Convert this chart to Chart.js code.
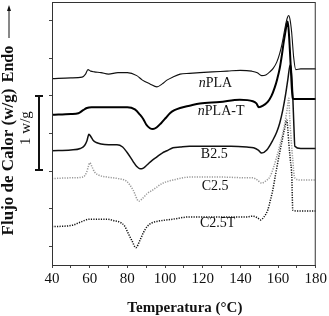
<!DOCTYPE html>
<html>
<head>
<meta charset="utf-8">
<script src="https://cdn.jsdelivr.net/npm/chart.js@4"></script>
<style>
  html, body { margin: 0; padding: 0; background: #fff; }
</style>
</head>
<body>
<canvas id="dsc" width="329" height="316"></canvas>
<script>
// DSC curves, heat flow in W/g (curves shifted vertically as in the figure)
const nplaTemp = [40, 50, 56, 57.8, 59.1, 60.5, 62.5, 66, 70, 75, 80, 85, 88, 92, 95.7, 98.5, 101, 104, 108, 113, 118.5, 125, 133, 140, 146, 149, 151.3, 153.5, 155.6, 157.5, 159.3, 160.8, 162, 163, 163.8, 164.8, 165.6, 166.4, 167.2, 168.3, 169.4, 172, 180];
const nplaFlow = [2.23, 2.24, 2.25, 2.29, 2.35, 2.33, 2.32, 2.31, 2.29, 2.31, 2.31, 2.27, 2.21, 2.16, 2.12, 2.16, 2.21, 2.25, 2.29, 2.30, 2.31, 2.32, 2.33, 2.34, 2.33, 2.31, 2.27, 2.28, 2.32, 2.37, 2.45, 2.56, 2.68, 2.81, 2.92, 3.03, 3.07, 3.01, 2.85, 2.51, 2.35, 2.36, 2.36];

const nplaTTemp = [40, 50, 54, 56.5, 58.5, 61, 70, 80, 84, 86.7, 88.5, 90, 92, 93.6, 95.5, 98, 100.5, 102.6, 105, 108, 113, 118.5, 129, 139.7, 146.6, 148.5, 149.8, 152, 154.5, 156.5, 158.2, 159.6, 160.9, 162, 163, 164, 164.6, 165.1, 165.7, 166.2, 166.8, 167.3, 167.8, 168.5, 172, 180];
const nplaTFlow = [1.75, 1.76, 1.77, 1.81, 1.84, 1.85, 1.85, 1.85, 1.82, 1.75, 1.69, 1.62, 1.57, 1.56, 1.58, 1.64, 1.71, 1.77, 1.81, 1.84, 1.87, 1.90, 1.92, 1.95, 1.93, 1.90, 1.85, 1.87, 1.92, 2.00, 2.11, 2.23, 2.37, 2.54, 2.72, 2.87, 2.96, 2.99, 2.85, 2.64, 2.35, 2.10, 1.97, 1.96, 1.96, 1.96];

const b25Temp = [40, 50, 55, 57.3, 58.5, 59.6, 60.6, 61.8, 63.5, 66, 70, 74.5, 77.5, 79.8, 83, 85, 86.7, 88.5, 90.4, 93, 95.7, 98.5, 101, 104.2, 108, 113, 125, 135, 143.4, 147, 149.5, 151.3, 154, 157.2, 159.3, 160.9, 162.5, 164, 165.2, 166.4, 167, 167.8, 168.4, 168.9, 172, 180];
const b25Flow = [1.27, 1.28, 1.30, 1.34, 1.40, 1.49, 1.46, 1.41, 1.38, 1.36, 1.35, 1.35, 1.32, 1.25, 1.13, 1.06, 1.03, 1.04, 1.08, 1.14, 1.19, 1.24, 1.27, 1.31, 1.32, 1.33, 1.33, 1.33, 1.32, 1.31, 1.28, 1.24, 1.28, 1.41, 1.52, 1.64, 1.81, 2.02, 2.22, 2.41, 2.35, 2.00, 1.60, 1.33, 1.30, 1.30];

const c25Temp = [40, 50, 56.4, 58.3, 59.3, 60.1, 61, 62.5, 64.5, 69.2, 75, 79.8, 83, 86.1, 88.2, 90.5, 93.6, 98.9, 104.2, 113.2, 130, 143.4, 146.6, 149, 151.3, 153.5, 155.6, 157.5, 159.3, 160.8, 162, 163.6, 164.8, 165.7, 166.2, 167, 167.8, 168.8, 172, 180];
const c25Flow = [0.90, 0.91, 0.92, 0.98, 1.06, 1.11, 1.07, 0.99, 0.95, 0.92, 0.90, 0.86, 0.75, 0.60, 0.64, 0.70, 0.75, 0.84, 0.88, 0.92, 0.92, 0.91, 0.91, 0.88, 0.84, 0.87, 0.92, 1.04, 1.19, 1.33, 1.45, 1.64, 1.82, 1.97, 1.70, 1.40, 1.15, 0.91, 0.88, 0.88];

const c25tTemp = [40, 51, 55, 60, 69, 73, 76, 78.5, 80.3, 82.5, 84.5, 86.7, 88.5, 90.4, 93, 95.7, 104.2, 113.2, 130, 143.4, 146.6, 149, 150.8, 152.5, 154.5, 155.8, 157.2, 158.5, 159.8, 161.2, 162.5, 163.6, 164.6, 165.2, 165.7, 166.5, 167.3, 167.8, 170, 180];
const c25tFlow = [0.26, 0.28, 0.32, 0.36, 0.36, 0.34, 0.32, 0.27, 0.18, 0.07, -0.02, 0.08, 0.18, 0.26, 0.31, 0.33, 0.36, 0.39, 0.39, 0.39, 0.40, 0.38, 0.35, 0.39, 0.48, 0.60, 0.75, 0.93, 1.11, 1.29, 1.45, 1.58, 1.68, 1.55, 1.37, 1.15, 0.92, 0.48, 0.47, 0.47];

const yTicks = [0, 0.5, 1, 1.5, 2, 2.5, 3];

// curve labels: [prefix in italics, rest, temperature, heat flow]
const curveLabels = [
  ['n', 'PLA', 117.9, 2.17],
  ['n', 'PLA-T', 117.4, 1.79],
  ['', 'B2.5', 119, 1.22],
  ['', 'C2.5', 119.5, 0.80],
  ['', 'C2.5T', 118.5, 0.30]
];

const pts = (t, q) => t.map((x, i) => ({ x: x, y: q[i] }));
const serif = '"Liberation Serif", "DejaVu Serif", serif';

const annotations = {
  id: 'annotations',
  afterDraw(chart) {
    const ctx = chart.ctx;
    const a = chart.chartArea;
    const xs = chart.scales.x, ys = chart.scales.y;
    ctx.save();

    // frame
    ctx.strokeStyle = '#333';
    ctx.lineWidth = 1;
    ctx.strokeRect(a.left + 0.5, a.top + 0.5, a.right - a.left - 1, a.bottom - a.top);

    // curve labels
    ctx.fillStyle = '#111';
    ctx.textBaseline = 'middle';
    ctx.textAlign = 'left';
    curveLabels.forEach(([it, rest, t, q]) => {
      let px = xs.getPixelForValue(t);
      const py = ys.getPixelForValue(q);
      if (it) {
        ctx.font = 'italic 14px ' + serif;
        ctx.fillText(it, px, py);
        px += ctx.measureText(it).width;
      }
      ctx.font = '14px ' + serif;
      ctx.fillText(rest, px, py);
    });

    // x title
    ctx.textBaseline = 'alphabetic';
    ctx.textAlign = 'center';
    ctx.font = 'bold 15px ' + serif;
    ctx.fillText('Temperatura (\u00B0C)', (a.left + a.right) / 2 + 1, 312);

    // y title and Endo arrow
    ctx.save();
    ctx.translate(12.5, 162);
    ctx.rotate(-Math.PI / 2);
    ctx.font = 'bold 17px ' + serif;
    ctx.fillText('Flujo de Calor (w/g)', 0, 0);
    ctx.restore();

    ctx.save();
    ctx.translate(12.5, 64);
    ctx.rotate(-Math.PI / 2);
    ctx.font = 'bold 16px ' + serif;
    ctx.fillText('Endo', 0, 0);
    ctx.restore();

    ctx.strokeStyle = '#111';
    ctx.lineWidth = 1;
    ctx.beginPath();
    ctx.moveTo(9, 38);
    ctx.lineTo(9, 10);
    ctx.stroke();
    ctx.beginPath();
    ctx.moveTo(9, 5);
    ctx.lineTo(7, 11);
    ctx.lineTo(11, 11);
    ctx.closePath();
    ctx.fill();

    // 1 W/g scale bar
    ctx.lineWidth = 2;
    ctx.beginPath();
    ctx.moveTo(39, 96); ctx.lineTo(39, 170);
    ctx.moveTo(35, 96); ctx.lineTo(43, 96);
    ctx.moveTo(35, 170); ctx.lineTo(43, 170);
    ctx.stroke();

    ctx.save();
    ctx.translate(30, 128);
    ctx.rotate(-Math.PI / 2);
    ctx.font = '15px ' + serif;
    ctx.fillText('1 w/g', 0, 0);
    ctx.restore();

    ctx.restore();
  }
};

new Chart(document.getElementById('dsc').getContext('2d'), {
  type: 'line',
  data: {
    datasets: [
      { label: 'nPLA', data: pts(nplaTemp, nplaFlow), borderColor: '#111', borderWidth: 1.1 },
      { label: 'nPLA-T', data: pts(nplaTTemp, nplaTFlow), borderColor: '#000', borderWidth: 2 },
      { label: 'B2.5', data: pts(b25Temp, b25Flow), borderColor: '#111', borderWidth: 1.5 },
      { label: 'C2.5', data: pts(c25Temp, c25Flow), borderColor: '#999', borderWidth: 1.5, borderDash: [1.2, 1.3] },
      { label: 'C2.5T', data: pts(c25tTemp, c25tFlow), borderColor: '#111', borderWidth: 1.5, borderDash: [1.2, 1.3] }
    ]
  },
  options: {
    responsive: false,
    animation: false,
    layout: { padding: { left: 48, right: 13, top: 2, bottom: 0 } },
    plugins: { legend: { display: false }, tooltip: { enabled: false } },
    elements: {
      point: { radius: 0 },
      line: { cubicInterpolationMode: 'monotone', fill: false }
    },
    scales: {
      x: {
        type: 'linear', min: 40, max: 180,
        ticks: {
          stepSize: 10, autoSkip: false, maxRotation: 0, padding: 2,
          color: '#111', font: { family: serif, size: 15 },
          callback: v => (v % 20 === 0 ? v : '')
        },
        grid: { drawOnChartArea: false, tickLength: 3, color: '#444' },
        border: { display: false },
        afterFit: s => { s.height = 51; }
      },
      y: {
        type: 'linear', min: -0.25, max: 3.25,
        afterBuildTicks: s => { s.ticks = yTicks.map(v => ({ value: v })); },
        ticks: { display: false },
        grid: { drawOnChartArea: false, tickLength: 3, color: '#444' },
        border: { display: false },
        afterFit: s => { s.width = 4; }
      }
    }
  },
  plugins: [annotations]
});
</script>
</body>
</html>
